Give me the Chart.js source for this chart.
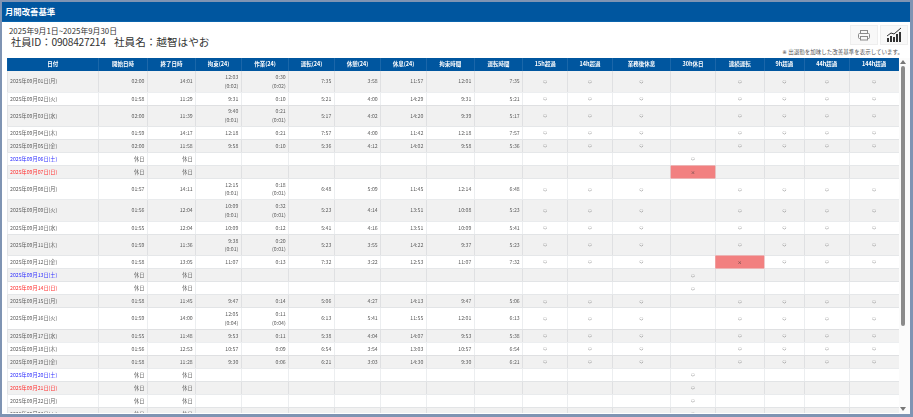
<!DOCTYPE html>
<html lang="ja"><head><meta charset="utf-8"><title>月間改善基準</title>
<script src="https://cdn.jsdelivr.net/npm/chart.js@4"></script>
<style>
html,body{margin:0;padding:0;width:913px;height:417px;overflow:hidden;background:#7f94b3;font-family:"Noto Sans CJK JP","Noto Sans",sans-serif}
#panel{position:absolute;left:2px;top:2px;width:908px;height:412px;background:#fff;overflow:hidden}
#bar{position:absolute;left:0;top:0;width:908px;height:20px;background:#00569f;border-bottom:1px solid #0a64ad;box-sizing:border-box;color:#fff;font-size:8.4px;font-weight:700;line-height:19px;padding-left:3px}
.t{position:absolute;white-space:nowrap;color:#333}
.btn{position:absolute;top:23px;width:28px;height:20px;background:#f8f8f8;border:1px solid #eee;box-sizing:border-box}
.btn svg{position:absolute;left:0;top:0}
#chartWrap{position:absolute;left:5px;top:56px;width:892px;height:355px}
#sb{position:absolute;left:897px;top:56px;width:11px;height:356px;background:#fbfbfb}
#thumb{position:absolute;left:2px;top:8px;width:4px;height:260px;background:#8b8b8b;border-radius:2px}
.arr{position:absolute;left:1px;width:0;height:0;border-left:3px solid transparent;border-right:3px solid transparent}
</style></head><body>
<div id="panel">
 <div id="bar">月間改善基準</div>
 <div class="t" style="left:7px;top:23px;font-size:7.85px;line-height:11px">2025年9月1日~2025年9月30日</div>
 <div class="t" style="left:9px;top:32px;font-size:10.2px;line-height:15px">社員ID：<span style="letter-spacing:-.25px">0908427214</span></div>
 <div class="t" style="left:112px;top:32px;font-size:10.6px;line-height:15px">社員名：越智はやお</div>
 <div class="t" style="right:7px;top:46px;font-size:5.5px;line-height:8px;color:#555"><span style="font-family:'DejaVu Sans'">※</span> 出退勤を加味した改善基準を表示しています。</div>
 <div class="btn" style="left:848px"><svg width="26" height="18"><g fill="none" stroke="#8a8a8a" stroke-width="1"><rect x="9.5" y="4.5" width="7" height="3"/><rect x="7.5" y="7.5" width="11" height="5" rx="1"/><rect x="9.5" y="10.5" width="7" height="3.5" fill="#f8f8f8"/></g></svg></div>
 <div class="btn" style="left:878px"><svg width="26" height="18"><g fill="#333"><rect x="6" y="12" width="2" height="4"/><rect x="9" y="10" width="2" height="6"/><rect x="12" y="11" width="2" height="5"/><rect x="15" y="8" width="2" height="8"/><rect x="18" y="6" width="2" height="10"/></g><polyline points="6,10 10,7 13,8 20,2" fill="none" stroke="#333" stroke-width="1"/></svg></div>
 <div id="chartWrap"><canvas id="c" width="892" height="355"></canvas></div>
 <div id="sb"><div class="arr" style="top:2px;border-bottom:4px solid #777"></div><div id="thumb"></div><div class="arr" style="top:349px;border-top:4px solid #777"></div></div>
</div>
<script>
const O = '○', X = '×', N = '';
const headers = ['日付','開始日時','終了日時','拘束(24)','作業(24)','運転(24)','休憩(24)','休息(24)','拘束時間','運転時間','15h超過','14h超過','業務後休息','30h休日','連続運転','9h超過','44h超過','144h超過'];
const dates = ['2025年09月01日(月)','2025年09月02日(火)','2025年09月03日(水)','2025年09月04日(木)','2025年09月05日(金)','2025年09月06日(土)','2025年09月07日(日)','2025年09月08日(月)','2025年09月09日(火)','2025年09月10日(水)','2025年09月11日(木)','2025年09月12日(金)','2025年09月13日(土)','2025年09月14日(日)','2025年09月15日(月)','2025年09月16日(火)','2025年09月17日(水)','2025年09月18日(木)','2025年09月19日(金)','2025年09月20日(土)','2025年09月21日(日)','2025年09月22日(月)','2025年09月23日(火)'];
const startTimes = ['02:00','01:58','02:00','01:59','02:00','休日','休日','01:57','01:56','01:55','01:59','01:58','休日','休日','01:58','01:59','01:55','01:56','01:58','休日','休日','休日','休日'];
const endTimes = ['14:01','11:29','11:39','14:17','11:58','休日','休日','14:11','12:04','12:04','11:36','13:05','休日','休日','11:45','14:00','11:48','12:53','11:28','休日','休日','休日','休日'];
const restraint24 = ['12:03','9:31','9:40','12:18','9:58',N,N,'12:15','10:09','10:09','9:38','11:07',N,N,'9:47','12:05','9:53','10:57','9:30',N,N,N,N];
const restraint24Sub = ['(0:02)',N,'(0:01)',N,N,N,N,'(0:01)','(0:01)',N,'(0:01)',N,N,N,N,'(0:04)',N,N,N,N,N,N,N];
const work24 = ['0:30','0:10','0:21','0:21','0:10',N,N,'0:18','0:32','0:12','0:20','0:13',N,N,'0:14','0:11','0:11','0:09','0:06',N,N,N,N];
const work24Sub = ['(0:02)',N,'(0:01)',N,N,N,N,'(0:01)','(0:01)',N,'(0:01)',N,N,N,N,'(0:04)',N,N,N,N,N,N,N];
const drive24 = ['7:35','5:21','5:17','7:57','5:36',N,N,'6:48','5:23','5:41','5:23','7:32',N,N,'5:06','6:13','5:38','6:54','6:21',N,N,N,N];
const break24 = ['3:58','4:00','4:02','4:00','4:12',N,N,'5:09','4:14','4:16','3:55','3:22',N,N,'4:27','5:41','4:04','3:54','3:03',N,N,N,N];
const rest24 = ['11:57','14:29','14:20','11:42','14:02',N,N,'11:45','13:51','13:51','14:22','12:53',N,N,'14:13','11:55','14:07','13:03','14:30',N,N,N,N];
const restraintTime = ['12:01','9:31','9:39','12:18','9:58',N,N,'12:14','10:08','10:09','9:37','11:07',N,N,'9:47','12:01','9:53','10:57','9:30',N,N,N,N];
const driveTime = ['7:35','5:21','5:17','7:57','5:36',N,N,'6:48','5:23','5:41','5:23','7:32',N,N,'5:06','6:13','5:38','6:54','6:21',N,N,N,N];
const over15h = [O,O,O,O,O,N,N,O,O,O,O,O,N,N,O,O,O,O,O,N,N,N,N];
const over14h = [O,O,O,O,O,N,N,O,O,O,O,O,N,N,O,O,O,O,O,N,N,N,N];
const afterWorkRest = [O,O,O,O,O,N,N,O,O,O,O,O,N,N,O,O,O,O,O,N,N,N,N];
const dayOff30h = [N,N,N,N,N,O,X,N,N,N,N,N,O,O,N,N,N,N,N,O,O,O,O];
const continuousDrive = [O,O,O,O,O,N,N,O,O,O,O,X,N,N,O,O,O,O,O,N,N,N,N];
const over9h = [O,O,O,O,O,N,N,O,O,O,O,O,N,N,O,O,O,O,O,N,N,N,N];
const over44h = [O,O,O,O,O,N,N,O,O,O,O,O,N,N,O,O,O,O,O,N,N,N,N];
const over144h = [O,O,O,O,O,N,N,O,O,O,O,O,N,N,O,O,O,O,O,N,N,N,N];

const columns = [dates,startTimes,endTimes,restraint24,work24,drive24,break24,rest24,restraintTime,driveTime,over15h,over14h,afterWorkRest,dayOff30h,continuousDrive,over9h,over44h,over144h];
const subColumns = {3:restraint24Sub,4:work24Sub};

// layout
const colUnits = [91.7,48.8,48.2,45.6,47.4,45.6,46.4,45.6,48,48.4,45,44.6,58.4,44.6,49,40,45,49.7];
const HEAD_H = 12.7, ROW_H = 13.05, ROW2_H = 21.3, AREA_H = 355;
const colEdges = colUnits.reduce((a,w)=>(a.push(a[a.length-1]+w),a),[0]);
const rowEdges = [0,HEAD_H];
dates.forEach((_,i)=>rowEdges.push(rowEdges[rowEdges.length-1]+(restraint24Sub[i]?ROW2_H:ROW_H)));
const totalW = colEdges[colEdges.length-1];
const mid = i => (rowEdges[i+1]+rowEdges[i+2])/2;
const isDouble = i => !!restraint24Sub[i];
const stripes = d => dates.map((_,i)=>i).filter(i=>i%2===0 && isDouble(i)===d).map(i=>({x:[0,totalW],y:mid(i)}));
const redCells = [];
columns.forEach((col,c)=>col.forEach((v,r)=>{ if(v===X) redCells.push({x:[colEdges[c]+0.3,colEdges[c+1]-0.3],y:mid(r)}); }));

const base = {grouped:false,borderWidth:0,borderSkipped:false};
const textPlugin = {
  id:'tableText',
  afterDraw(chart){
    const {ctx,scales:{x,y},chartArea:a} = chart;
    ctx.save();
    ctx.beginPath();ctx.rect(a.left,a.top,a.width,a.height);ctx.clip();
    ctx.textBaseline='middle';
    const FONT='"Noto Sans CJK JP","Noto Sans",sans-serif';
    ctx.font='700 5.5px '+FONT;ctx.fillStyle='#fff';ctx.textAlign='center';
    headers.forEach((h,c)=>ctx.fillText(h,x.getPixelForValue((colEdges[c]+colEdges[c+1])/2),y.getPixelForValue(HEAD_H/2)));
    columns.forEach((col,c)=>col.forEach((v,r)=>{
      if(!v) return;
      ctx.font='5.2px '+FONT;
      const yc=y.getPixelForValue(mid(r));
      if(c===0){
        ctx.textAlign='left';
        const wd=v.slice(-2,-1);
        ctx.fillStyle=wd==='土'?'#2b2bff':wd==='日'?'#ff2b2b':'#5c5c5c';
        ctx.fillText(v,x.getPixelForValue(colEdges[0]+3),yc);return;
      }
      ctx.fillStyle='#5c5c5c';
      if(c>=10){
        ctx.font=(v===X?'4.4px ':'3.8px ')+FONT;
        ctx.fillStyle='#333';
        ctx.textAlign='center';
        ctx.fillText(v,x.getPixelForValue((colEdges[c]+colEdges[c+1])/2),yc);return;
      }
      ctx.textAlign='right';
      const xr=x.getPixelForValue(colEdges[c+1]-3);
      const sub=subColumns[c]&&subColumns[c][r];
      if(sub){ctx.fillText(v,xr,yc-4.3);ctx.fillText(sub,xr,yc+4.3);}
      else ctx.fillText(v,xr,yc);
    }));
    ctx.restore();
  }
};
new Chart(document.getElementById('c'),{
  type:'bar',
  data:{datasets:[
    {...base,order:0,data:colUnits.map((_,c)=>({x:[colEdges[c]+0.4,colEdges[c+1]-0.4],y:HEAD_H/2})),backgroundColor:'#00569f',barThickness:HEAD_H},
    {...base,order:1,data:[{x:[0,totalW],y:HEAD_H/2}],backgroundColor:'#5f93c4',barThickness:HEAD_H},
    {...base,order:2,data:redCells,backgroundColor:'#f28080',barThickness:ROW_H-0.6},
    {...base,order:3,data:stripes(false),backgroundColor:'rgba(0,0,0,0.055)',barThickness:ROW_H-0.6},
    {...base,order:3,data:stripes(true),backgroundColor:'rgba(0,0,0,0.055)',barThickness:ROW2_H-0.6}
  ]},
  options:{
    indexAxis:'y',responsive:false,animation:false,devicePixelRatio:1,
    layout:{padding:0},
    plugins:{legend:{display:false},tooltip:{enabled:false}},
    events:[],
    scales:{
      x:{type:'linear',min:0,max:totalW,position:'top',offset:false,border:{display:false},
         afterBuildTicks:s=>{s.ticks=colEdges.map(v=>({value:v}));},
         afterFit:s=>{s.height=0;s.paddingLeft=0;s.paddingRight=0;},
         ticks:{display:false,autoSkip:false,padding:0},grid:{offset:false,color:'#eceef0',lineWidth:1,drawTicks:false,z:-1}},
      y:{type:'linear',min:0,max:AREA_H,reverse:true,offset:false,border:{display:false},
         afterBuildTicks:s=>{s.ticks=rowEdges.map(v=>({value:v}));},
         afterFit:s=>{s.width=0;s.paddingTop=0;s.paddingBottom=0;},
         ticks:{display:false,autoSkip:false,padding:0},grid:{offset:false,color:'#eceef0',lineWidth:1,drawTicks:false,z:-1}}
    }
  },
  plugins:[textPlugin]
});
</script>
</body></html>
